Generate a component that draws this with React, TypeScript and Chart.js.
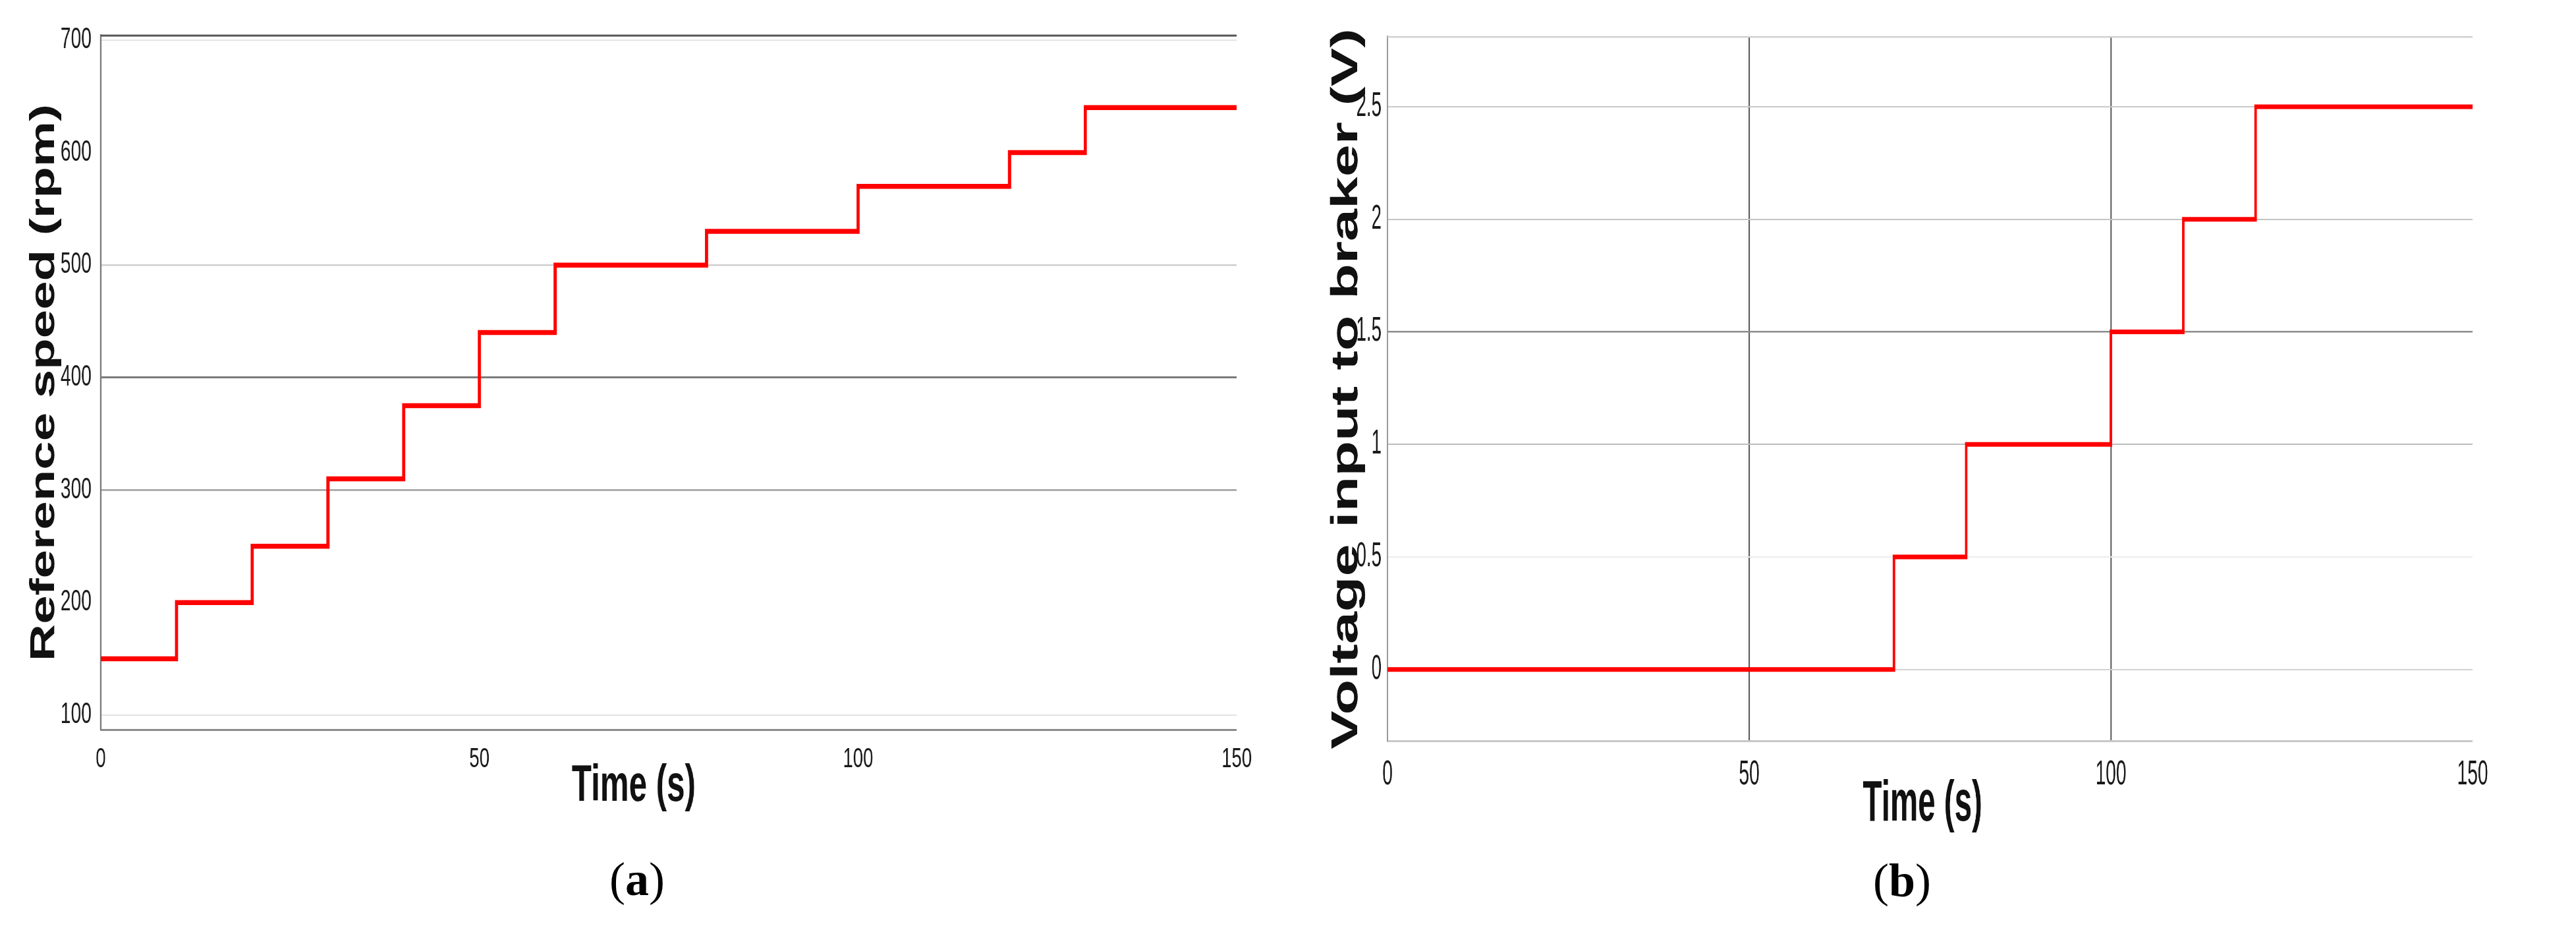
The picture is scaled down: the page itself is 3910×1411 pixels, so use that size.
import React, { useEffect, useRef } from 'react';
import { Chart, registerables } from 'chart.js';

Chart.register(...registerables);

// ---------- data ----------
const timeTicks = [0, 50, 100, 150];
const speedTicks = [100, 200, 300, 400, 500, 600, 700];
const voltTicks = [0, 0.5, 1, 1.5, 2, 2.5];
const voltTickLabels = ['0', '0.5', '1', '1.5', '2', '2.5'];

const speedTime = [0, 10, 20, 30, 40, 50, 60, 80, 100, 120, 130, 150];
const speedValues = [150, 200, 250, 310, 375, 440, 500, 530, 570, 600, 640, 640];

const voltTime = [0, 70, 80, 100, 110, 120, 150];
const voltValues = [0, 0.5, 1, 1.5, 2, 2.5, 2.5];

const timeRange = [0, 150];
const speedRange = [87, 704];
const voltRange = [-0.317, 2.81];

const xTitle = 'Time (s)';
const speedTitle = 'Reference speed (rpm)';
const voltTitle = 'Voltage input to braker (V)';

// ---------- styling ----------
const SANS = "'Liberation Sans', Arial, Helvetica, sans-serif";
const SERIF = "'Liberation Serif', 'Times New Roman', Times, serif";
const NONE = 'rgba(0,0,0,0)';

type GridStyle = { color: string; width: number };

const overlayPlugin = {
  id: 'overlay',
  afterDraw(chart: any, _args: any, opts: any) {
    const ctx = chart.ctx;
    const a = chart.chartArea;
    ctx.save();
    if (opts.topLine) {
      ctx.strokeStyle = opts.topLine.color;
      ctx.lineWidth = opts.topLine.width;
      ctx.beginPath();
      ctx.moveTo(a.left, a.top);
      ctx.lineTo(a.right, a.top);
      ctx.stroke();
    }
    if (opts.xTitle) {
      const t = opts.xTitle;
      ctx.fillStyle = '#111';
      ctx.font = `bold ${t.size}px ${SANS}`;
      ctx.textAlign = 'center';
      ctx.textBaseline = 'alphabetic';
      ctx.fillText(t.text, t.cx, t.baseline);
    }
    if (opts.yTitle) {
      const t = opts.yTitle;
      ctx.fillStyle = '#111';
      ctx.font = `bold ${t.size}px ${SANS}`;
      ctx.textAlign = 'center';
      ctx.textBaseline = 'alphabetic';
      ctx.translate(t.baseline, (a.top + a.bottom) / 2 + t.dy);
      ctx.scale(t.stretch, 1);
      ctx.rotate(-Math.PI / 2);
      ctx.fillText(t.text, 0, 0);
    }
    ctx.restore();
  },
};

type PanelProps = {
  left: number;
  sx: number;
  canvasW: number;
  canvasH: number;
  area: { left: number; right: number; top: number; bottom: number };
  xs: number[];
  ys: number[];
  yRange: number[];
  yTicks: number[];
  yLabel: (v: number) => string;
  yGrid: Record<string, GridStyle>;
  xGrid: Record<string, GridStyle>;
  yTickFont: number;
  yTickPad: number;
  xTickFont: number;
  xTickPad: number;
  leftBorder: GridStyle;
  bottomBorder: GridStyle;
  topLine: GridStyle;
  lineWidth: number;
  xTitleCfg: any;
  yTitleCfg: any;
};

function StepPanel(p: PanelProps) {
  const ref = useRef<HTMLCanvasElement | null>(null);

  useEffect(() => {
    if (!ref.current) return;
    const chart = new Chart(ref.current, {
      type: 'line',
      data: {
        datasets: [
          {
            data: p.xs.map((x, i) => ({ x, y: p.ys[i] })),
            borderColor: '#ff0000',
            borderWidth: p.lineWidth,
            stepped: 'before',
            pointRadius: 0,
            fill: false,
            tension: 0,
            borderJoinStyle: 'miter',
            borderCapStyle: 'butt',
          } as any,
        ],
      },
      options: {
        animation: false,
        responsive: false,
        events: [],
        layout: {
          padding: {
            left: 0,
            top: p.area.top,
            right: p.canvasW - p.area.right,
            bottom: 0,
          },
        },
        plugins: {
          legend: { display: false },
          tooltip: { enabled: false },
          overlay: {
            topLine: p.topLine,
            xTitle: p.xTitleCfg,
            yTitle: p.yTitleCfg,
          },
        } as any,
        scales: {
          x: {
            type: 'linear',
            min: timeRange[0],
            max: timeRange[1],
            afterBuildTicks: (s: any) => {
              s.ticks = timeTicks.map((v) => ({ value: v }));
            },
            afterFit: (s: any) => {
              s.height = p.canvasH - p.area.bottom;
            },
            ticks: {
              autoSkip: false,
              maxRotation: 0,
              minRotation: 0,
              padding: p.xTickPad,
              color: '#1a1a1a',
              font: { family: SANS, size: p.xTickFont },
              callback: (v: any) => String(v),
            },
            grid: {
              drawTicks: false,
              color: (c: any) => (c.tick && p.xGrid[String(c.tick.value)]?.color) || NONE,
              lineWidth: (c: any) => (c.tick && p.xGrid[String(c.tick.value)]?.width) || 0,
            },
            border: {
              display: true,
              color: p.bottomBorder.color,
              width: p.bottomBorder.width,
            },
          },
          y: {
            type: 'linear',
            min: p.yRange[0],
            max: p.yRange[1],
            afterBuildTicks: (s: any) => {
              s.ticks = p.yTicks.map((v) => ({ value: v }));
            },
            afterFit: (s: any) => {
              s.width = p.area.left;
            },
            ticks: {
              autoSkip: false,
              padding: p.yTickPad,
              color: '#1a1a1a',
              font: { family: SANS, size: p.yTickFont },
              callback: (v: any) => p.yLabel(Number(v)),
            },
            grid: {
              drawTicks: false,
              color: (c: any) => (c.tick && p.yGrid[String(c.tick.value)]?.color) || NONE,
              lineWidth: (c: any) => (c.tick && p.yGrid[String(c.tick.value)]?.width) || 0,
            },
            border: {
              display: true,
              color: p.leftBorder.color,
              width: p.leftBorder.width,
            },
          },
        },
      } as any,
      plugins: [overlayPlugin as any],
    });
    return () => chart.destroy();
  }, []);

  return (
    <div
      style={{
        position: 'absolute',
        left: p.left,
        top: 0,
        width: p.canvasW * p.sx,
        height: p.canvasH,
        overflow: 'visible',
      }}
    >
      <canvas
        ref={ref}
        width={p.canvasW}
        height={p.canvasH}
        style={{
          position: 'absolute',
          left: 0,
          top: 0,
          width: p.canvasW,
          height: p.canvasH,
          transform: `scaleX(${p.sx})`,
          transformOrigin: '0 0',
        }}
      />
    </div>
  );
}

export default function App() {
  const H = 1300;

  const panelA: PanelProps = {
    left: 0,
    sx: 0.64,
    canvasW: 3047,
    canvasH: H,
    area: { left: 239, right: 2933, top: 54, bottom: 1107 },
    xs: speedTime,
    ys: speedValues,
    yRange: speedRange,
    yTicks: speedTicks,
    yLabel: (v) => String(v),
    yGrid: {
      '100': { color: '#e2e2e2', width: 2 },
      '300': { color: '#acacac', width: 3 },
      '400': { color: '#7a7a7a', width: 3 },
      '500': { color: '#cfcfcf', width: 2.5 },
      '700': { color: '#e4e4e4', width: 2 },
    },
    xGrid: {},
    yTickFont: 44,
    yTickPad: 22,
    xTickFont: 43,
    xTickPad: 19,
    leftBorder: { color: '#7a7a7a', width: 4 },
    bottomBorder: { color: '#8a8a8a', width: 3 },
    topLine: { color: '#555555', width: 3 },
    lineWidth: 7.5,
    xTitleCfg: { text: xTitle, size: 77, cx: 1503, baseline: 1215 },
    yTitleCfg: { text: speedTitle, size: 78, baseline: 128, dy: 0, stretch: 1.04 },
  };

  const panelB: PanelProps = {
    left: 1950,
    sx: 0.54,
    canvasW: 3630,
    canvasH: H,
    area: { left: 289, right: 3339, top: 56, bottom: 1124 },
    xs: voltTime,
    ys: voltValues,
    yRange: voltRange,
    yTicks: voltTicks,
    yLabel: (v) => voltTickLabels[voltTicks.indexOf(v)] ?? String(v),
    yGrid: {
      '0': { color: '#d2d2d2', width: 2 },
      '0.5': { color: '#ececec', width: 2 },
      '1': { color: '#bdbdbd', width: 2 },
      '1.5': { color: '#8c8c8c', width: 2.5 },
      '2': { color: '#c4c4c4', width: 2 },
      '2.5': { color: '#cacaca', width: 2 },
    },
    xGrid: {
      '50': { color: '#5a5a5a', width: 3.5 },
      '100': { color: '#5a5a5a', width: 3.5 },
    },
    yTickFont: 51,
    yTickPad: 17,
    xTickFont: 52,
    xTickPad: 20,
    leftBorder: { color: '#9a9a9a', width: 4 },
    bottomBorder: { color: '#c8c8c8', width: 3 },
    topLine: { color: '#d0d0d0', width: 2.5 },
    lineWidth: 7,
    xTitleCfg: { text: xTitle, size: 88, cx: 1793, baseline: 1245 },
    yTitleCfg: { text: voltTitle, size: 88, baseline: 204, dy: 0, stretch: 1.2 },
  };

  const caption: React.CSSProperties = {
    position: 'absolute',
    width: 400,
    textAlign: 'center',
    fontFamily: SERIF,
    fontSize: 72,
    lineHeight: '72px',
    color: '#000',
  };

  return (
    <div
      style={{
        position: 'absolute',
        left: 0,
        top: 0,
        width: 3910,
        height: 1411,
        background: '#ffffff',
        overflow: 'hidden',
      }}
    >
      <StepPanel {...panelA} />
      <StepPanel {...panelB} />
      <div style={{ ...caption, left: 767, top: 1298 }}>
        (<b>a</b>)
      </div>
      <div style={{ ...caption, left: 2687, top: 1300 }}>
        (<b>b</b>)
      </div>
    </div>
  );
}
